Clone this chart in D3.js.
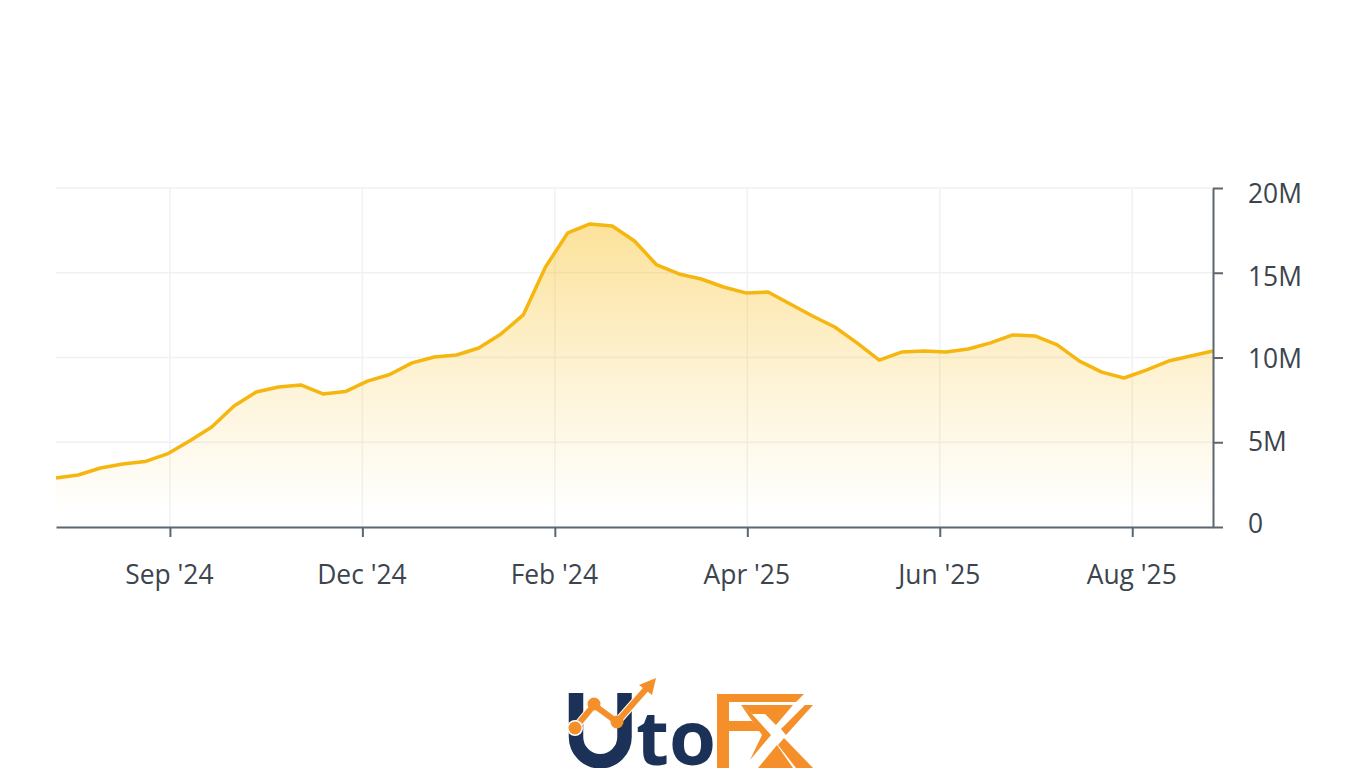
<!DOCTYPE html>
<html>
  <head>
    <meta charset="utf-8" />
    <script src="https://d3js.org/d3.v7.min.js"></script>
    <style>
      html, body { margin: 0; padding: 0; background: #fff; overflow: hidden; }
      text { font-family: "Open Sans", sans-serif; }
    </style>
  </head>
  <body>
    <div id="chart"></div>
    <script>
      // weekly values in millions
      const values = [
        2.89, 3.07, 3.48, 3.72, 3.86, 4.31, 5.07, 5.9, 7.14, 7.96, 8.26, 8.38, 7.85, 7.99, 8.61, 9.0, 9.68, 10.03,
        10.15, 10.56, 11.39, 12.51, 15.34, 17.35, 17.88, 17.76, 16.87, 15.46, 14.93, 14.63, 14.16, 13.81, 13.86,
        13.16, 12.45, 11.8, 10.86, 9.85, 10.32, 10.38, 10.32, 10.5, 10.86, 11.33, 11.27, 10.74, 9.79, 9.14, 8.79,
        9.26, 9.79, 10.09, 10.38,
      ];
      const xLabels = ["Sep '24", "Dec '24", "Feb '24", "Apr '25", "Jun '25", "Aug '25"];
      const xTicks = [5.12, 13.77, 22.42, 31.07, 39.72, 48.37]; // week index of each label
      const yTicks = [0, 5, 10, 15, 20];
      const yLabels = ["0", "5M", "10M", "15M", "20M"];

      const width = 1366;
      const height = 768;
      const x = d3.scaleLinear().domain([0, values.length - 1]).range([56, 1213]);
      const y = d3.scaleLinear().domain([0, 20]).range([527, 188]);
      // the y labels are squeezed a bit inside the tick range
      const yLabel = d3.scaleLinear().domain([0, 20]).range([524, 194]);

      const svg = d3.select("#chart").append("svg").attr("width", width).attr("height", height).style("display", "block");

      const grad = svg
        .append("defs")
        .append("linearGradient")
        .attr("id", "fill")
        .attr("gradientUnits", "userSpaceOnUse")
        .attr("x1", 0)
        .attr("x2", 0)
        .attr("y1", y(d3.max(values)))
        .attr("y2", y(0) - 15);
      grad.append("stop").attr("offset", 0).attr("stop-color", "#f8b90f").attr("stop-opacity", 0.42);
      grad.append("stop").attr("offset", 0.5).attr("stop-color", "#f8b90f").attr("stop-opacity", 0.19);
      grad.append("stop").attr("offset", 1).attr("stop-color", "#f8b90f").attr("stop-opacity", 0);

      // grid
      svg
        .selectAll(".hgrid")
        .data(yTicks.slice(1))
        .enter()
        .append("line")
        .attr("x1", x.range()[0])
        .attr("x2", x.range()[1])
        .attr("y1", (d) => y(d))
        .attr("y2", (d) => y(d))
        .style("stroke", "#f0f1f4")
        .style("stroke-width", 1.5);
      svg
        .selectAll(".vgrid")
        .data(xTicks)
        .enter()
        .append("line")
        .attr("x1", (d) => x(d))
        .attr("x2", (d) => x(d))
        .attr("y1", y(20))
        .attr("y2", y(0))
        .style("stroke", "#f0f1f4")
        .style("stroke-width", 1.5);

      // area and line
      const area = d3.area().x((d, i) => x(i)).y0(y(0)).y1((d) => y(d));
      const line = d3.line().x((d, i) => x(i)).y((d) => y(d));
      svg.append("path").datum(values).attr("d", area).attr("fill", "url(#fill)");
      svg
        .append("path")
        .datum(values)
        .attr("d", line)
        .attr("fill", "none")
        .style("stroke", "#f5b60f")
        .style("stroke-width", 3.5)
        .style("stroke-linejoin", "round");

      // axes
      const axisColor = "#5b6670";
      const xAxis = svg
        .append("g")
        .attr("transform", `translate(0,${y(0)})`)
        .call(d3.axisBottom(x).tickValues(xTicks).tickSize(10).tickSizeOuter(0).tickFormat((d, i) => xLabels[i]));
      xAxis.selectAll("line,path").style("stroke", axisColor).style("stroke-width", 2);
      xAxis
        .selectAll("text")
        .attr("x", -1)
        .attr("y", 48)
        .attr("dy", "0.35em")
        .style("font-family", '"Open Sans", sans-serif')
        .style("font-size", "26.4px")
        .style("fill", "#3c454d");

      const yAxis = svg
        .append("g")
        .attr("transform", `translate(${x.range()[1]},0)`)
        .call(d3.axisRight(y).tickValues(yTicks).tickSize(10).tickSizeOuter(0).tickFormat(""));
      yAxis.selectAll("line,path").style("stroke", axisColor).style("stroke-width", 2);
      svg
        .selectAll(".ylabel")
        .data(yTicks)
        .enter()
        .append("text")
        .attr("x", 1248)
        .attr("y", (d) => yLabel(d))
        .attr("dy", "0.35em")
        .style("font-size", "26.4px")
        .style("fill", "#3c454d")
        .text((d, i) => yLabels[i]);

      // logo
      const navy = "#1b3157";
      const orange = "#f58f2a";
      const logo = svg.append("g");
      logo
        .append("path")
        .attr("d", "M576,693 V737 A24.2,24.2 0 0 0 624.5,737 V693")
        .attr("fill", "none")
        .style("stroke", navy)
        .style("stroke-width", 14.5);
      logo
        .append("text")
        .attr("x", 636)
        .attr("y", 765)
        .style("font-size", "76px")
        .style("font-weight", 700)
        .style("fill", navy)
        .text("to");
      logo
        .append("polyline")
        .attr("points", "575,728 594,705 617,722 646,689")
        .attr("fill", "none")
        .style("stroke", "#fff")
        .style("stroke-width", 8);
      logo
        .append("polyline")
        .attr("points", "575,728 594,705 617,722 646,689")
        .attr("fill", "none")
        .style("stroke", orange)
        .style("stroke-width", 6);
      logo.append("circle").attr("cx", 575).attr("cy", 728).attr("r", 8).attr("fill", "#fff");
      logo
        .selectAll(".dot")
        .data([[575, 728], [594, 704], [617, 722]])
        .enter()
        .append("circle")
        .attr("cx", (d) => d[0])
        .attr("cy", (d) => d[1])
        .attr("r", 6.5)
        .attr("fill", orange);
      logo.append("polygon").attr("points", "656,678 639,685 652,695").attr("fill", orange);
      // FX mark
      const fx = [
        "717,694 804,694 796,702 729,702 729,721 752,721 761,731 729,731 729,768 717,768",
        "741,705 793,705 776,725 765,714 752,714",
        "741,705 752,714 771,735 750,760 762,735",
        "805,705 813,705 786,735 781,729",
        "784,738 813,768 796,768 778,745",
        "777,745 793,768 758,768",
      ];
      logo
        .selectAll(".fx")
        .data(fx)
        .enter()
        .append("polygon")
        .attr("points", (d) => d)
        .attr("fill", orange);
    </script>
  </body>
</html>
